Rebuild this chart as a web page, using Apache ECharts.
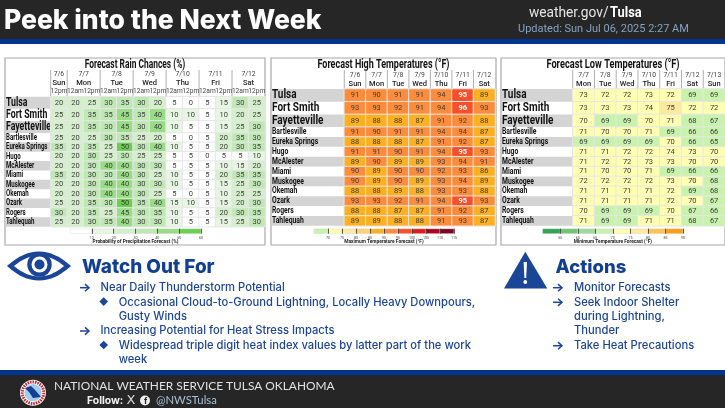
<!DOCTYPE html>
<html>

<head>
    <meta charset="utf-8">
    <title>Peek into the Next Week</title>
    <script src="https://cdn.jsdelivr.net/npm/echarts@6/dist/echarts.min.js"></script>
    <style>
        html, body { margin: 0; padding: 0; background: #fff; }
    </style>
</head>

<body>
    <div id="main" style="width: 725px;height:408px;"></div>
    <script type="text/javascript">
        // table rows
        var bigCities = ['Tulsa', 'Fort Smith', 'Fayetteville'];
        var smallCities = ['Bartlesville', 'Eureka Springs', 'Hugo', 'McAlester', 'Miami', 'Muskogee', 'Okemah', 'Ozark', 'Rogers', 'Tahlequah'];

        // rain chances
        var rainHours = ['12pm', '12am', '12pm', '12am', '12pm', '12am', '12pm', '12am', '12pm', '12am', '12pm', '12am', '12pm'];
        var rainDates = ['7/6', '7/7', '7/8', '7/9', '7/10', '7/11', '7/12'];
        var rainDays = ['Sun', 'Mon', 'Tue', 'Wed', 'Thu', 'Fri', 'Sat'];
        var rainDayStart = [0, 1, 3, 5, 7, 9, 11];
        var rainValues = [
            [20, 20, 25, 30, 35, 30, 20, 5, 0, 5, 15, 30, 25],
            [25, 20, 35, 35, 45, 35, 40, 10, 10, 5, 10, 20, 25],
            [25, 20, 35, 30, 45, 30, 40, 10, 5, 5, 15, 25, 30],
            [25, 20, 25, 30, 35, 25, 20, 5, 0, 5, 20, 35, 30],
            [35, 20, 35, 25, 50, 30, 40, 10, 5, 5, 20, 30, 35],
            [20, 20, 30, 25, 30, 25, 25, 5, 5, 0, 5, 5, 10],
            [20, 20, 30, 40, 40, 30, 30, 5, 5, 5, 10, 15, 20],
            [35, 20, 30, 30, 40, 30, 25, 10, 5, 5, 20, 35, 35],
            [20, 20, 30, 40, 40, 30, 30, 10, 5, 5, 15, 25, 30],
            [20, 20, 30, 40, 40, 30, 25, 5, 0, 5, 10, 25, 25],
            [25, 20, 35, 30, 50, 35, 40, 15, 10, 5, 15, 20, 30],
            [30, 20, 35, 25, 45, 30, 35, 10, 5, 5, 20, 30, 35],
            [25, 20, 30, 35, 40, 30, 30, 10, 5, 5, 15, 25, 30]
        ];
        var rainBreaks = [0, 10, 20, 30, 40, 50, 60];
        var rainColors = ['#ffffff', '#e7f6e2', '#d5efcd', '#c0e8b5', '#98dd86', '#6ccf50'];

        // high temperatures
        var highDates = ['7/6', '7/7', '7/8', '7/9', '7/10', '7/11', '7/12'];
        var highDays = ['Sun', 'Mon', 'Tue', 'Wed', 'Thu', 'Fri', 'Sat'];
        var highValues = [
            [91, 90, 91, 91, 94, 95, 89],
            [93, 93, 92, 91, 94, 96, 93],
            [89, 88, 88, 87, 91, 92, 88],
            [91, 90, 91, 91, 94, 94, 87],
            [88, 88, 88, 87, 91, 92, 87],
            [91, 91, 90, 91, 94, 95, 93],
            [89, 90, 89, 89, 93, 94, 91],
            [90, 89, 90, 90, 92, 93, 86],
            [90, 89, 90, 89, 93, 94, 89],
            [88, 88, 89, 88, 93, 93, 88],
            [93, 93, 92, 91, 94, 95, 93],
            [88, 88, 87, 87, 91, 92, 87],
            [89, 89, 88, 88, 91, 93, 87]
        ];
        var highBreaks = [65, 70, 75, 80, 85, 90, 95, 100, 105, 110, 115];
        var highColors = ['#c9f2ae', '#ffffb2', '#fee9a0', '#fed173', '#fdb022', '#fd8d3c', '#fb4f2a', '#e31a1c', '#b10026', '#800026'];

        // low temperatures
        var lowDates = ['7/7', '7/8', '7/9', '7/10', '7/11', '7/12', '7/13'];
        var lowDays = ['Mon', 'Tue', 'Wed', 'Thu', 'Fri', 'Sat', 'Sun'];
        var lowValues = [
            [73, 72, 72, 73, 72, 69, 69],
            [73, 73, 73, 74, 75, 72, 72],
            [70, 69, 69, 70, 71, 68, 67],
            [71, 70, 70, 71, 69, 66, 66],
            [69, 69, 69, 69, 70, 66, 65],
            [71, 71, 72, 72, 74, 73, 70],
            [71, 72, 72, 73, 73, 70, 70],
            [71, 70, 70, 71, 69, 66, 66],
            [72, 72, 72, 72, 73, 70, 68],
            [71, 71, 71, 71, 72, 69, 68],
            [71, 71, 71, 71, 72, 70, 67],
            [70, 69, 69, 69, 70, 67, 66],
            [71, 69, 69, 71, 71, 68, 67]
        ];
        var lowBreaks = [50, 55, 60, 65, 70, 75, 80, 85, 90];
        var lowColors = ['#31a354', '#74c476', '#a1d99b', '#c9f2ae', '#ffffb2', '#fee9a0', '#fec44f', '#fe9d14'];

        var dom = document.getElementById("main");
        var myChart = echarts.init(dom);
        var cellFont = 'Roboto';
        var blue = '#1b4596';

        var panels = [
            {
                title: 'Forecast Rain Chances (%)', caption: 'Probability of Precipitation Forecast (%)',
                box: [5, 58, 260, 187], left: 50.7, right: 265, top: 96.7, bigRow: 12.1, smallRow: 9.37,
                cols: rainHours, values: rainValues, breaks: rainBreaks, colors: rainColors,
                legend: [70, 201], titleY: 65, dateY: 74, dayY: 83, titleScale: 0.7, bigScale: 0.7, smallScale: 0.72
            },
            {
                title: 'Forecast High Temperatures (°F)', caption: 'Maximum Temperature Forecast (°F)',
                box: [271, 58, 225, 187], left: 344.3, right: 495, top: 89, bigRow: 12.7, smallRow: 9.87,
                cols: highDates, days: highDays, values: highValues, breaks: highBreaks, colors: highColors,
                legend: [314, 454], titleY: 65, dateY: 75, dayY: 84, titleScale: 0.75, bigScale: 0.8, smallScale: 0.8
            },
            {
                title: 'Forecast Low Temperatures (°F)', caption: 'Minimum Temperature Forecast (°F)',
                box: [501, 58, 224, 187], left: 572.7, right: 725, top: 89, bigRow: 12.7, smallRow: 9.87,
                cols: lowDates, days: lowDays, values: lowValues, breaks: lowBreaks, colors: lowColors,
                legend: [542.7, 683], titleY: 65, dateY: 75, dayY: 84, titleScale: 0.77, bigScale: 0.8, smallScale: 0.8
            }
        ];

        var grids = [], xAxes = [], yAxes = [], series = [], visualMaps = [];

        function heatData(rows, isTemp) {
            var out = [];
            rows.forEach(function (row, r) {
                row.forEach(function (v, c) {
                    var item = { value: [c, r, v] };
                    if (isTemp && v >= 95) {
                        item.label = { color: '#fff', fontWeight: 'bold' };
                    }
                    out.push(item);
                });
            });
            return out;
        }

        // two grids per panel: the three big rows and the ten small rows
        function addTable(p, cities, rows, top, rowH, withHeader, pieceSeries) {
            var g = grids.length;
            grids.push({ left: p.left, width: p.right - p.left, top: top, height: rowH * cities.length });
            xAxes.push({
                gridIndex: g, type: 'category', data: p.cols, position: 'top',
                axisLine: { show: false }, axisTick: { show: false }, splitLine: { show: false },
                axisLabel: {
                    show: withHeader && !p.days, interval: 0, margin: 1.5, fontSize: 6.6, color: '#444', fontFamily: cellFont
                }
            });
            yAxes.push({
                gridIndex: g, type: 'category', data: cities, inverse: true,
                axisLine: { show: false }, axisTick: { show: false }, splitLine: { show: false },
                axisLabel: { show: false }
            });
            pieceSeries.push(series.length);
            series.push({
                type: 'heatmap', xAxisIndex: g, yAxisIndex: g,
                data: heatData(rows, !!p.days),
                itemStyle: { borderColor: '#e6e6e6', borderWidth: 1 },
                label: { show: true, fontSize: 7.5, color: '#3d3d3d', fontFamily: cellFont, formatter: function (o) { return o.value[2]; } }
            });
        }

        // colour key: a stacked bar on its own value axis
        function addLegend(p) {
            var g = grids.length;
            var ticks = p.breaks.slice(1);
            grids.push({ left: p.legend[0], width: p.legend[1] - p.legend[0], top: 228.7, height: 5 });
            xAxes.push({
                gridIndex: g, type: 'value', min: p.breaks[0], max: p.breaks[p.breaks.length - 1], z: 5,
                axisLine: { show: false }, splitLine: { show: false },
                axisTick: { show: true, inside: true, length: 5, customValues: ticks, lineStyle: { color: '#333', width: 0.8 } },
                axisLabel: { fontSize: 3.6, color: '#444', margin: 2.5, fontFamily: cellFont, customValues: ticks }
            });
            yAxes.push({ gridIndex: g, type: 'category', data: [''], show: false });
            p.colors.forEach(function (c, i) {
                series.push({
                    type: 'bar', xAxisIndex: g, yAxisIndex: g, stack: 'legend' + g, barWidth: '100%',
                    data: [i === 0 ? p.breaks[1] : p.breaks[i + 1] - p.breaks[i]], silent: true,
                    itemStyle: { color: c, borderColor: '#c8c8c8', borderWidth: 0.3 }
                });
            });
        }

        panels.forEach(function (p) {
            var seriesIdx = [];
            p.grid = grids.length;
            addTable(p, bigCities, p.values.slice(0, 3), p.top, p.bigRow, true, seriesIdx);
            addTable(p, smallCities, p.values.slice(3), p.top + 3 * p.bigRow, p.smallRow, false, seriesIdx);
            var pieces = p.colors.map(function (c, i) {
                return { gte: p.breaks[i], lt: p.breaks[i + 1], color: c };
            });
            visualMaps.push({ type: 'piecewise', show: false, dimension: 2, seriesIndex: seriesIdx, pieces: pieces });
            addLegend(p);
        });

        function txt(x, y, s, size, color, weight, family, align, sx) {
            return {
                type: 'text', x: x, y: y, silent: true, scaleX: sx || 1,
                style: {
                    text: s, fontSize: size, fill: color, fontWeight: weight || 'normal',
                    fontFamily: family || 'Inter', textAlign: align || 'left', textVerticalAlign: 'middle'
                }
            };
        }

        function rect(x, y, w, h, fill, stroke, lw) {
            return {
                type: 'rect', silent: true, shape: { x: x, y: y, width: w, height: h },
                style: { fill: fill, stroke: stroke || null, lineWidth: lw || 0 }
            };
        }

        function circle(cx, cy, r, fill, stroke, lw, dash) {
            return {
                type: 'circle', silent: true, shape: { cx: cx, cy: cy, r: r },
                style: { fill: fill, stroke: stroke || null, lineWidth: lw || 0, lineDash: dash || null }
            };
        }

        function line(x1, y1, x2, y2, color, lw) {
            return {
                type: 'line', silent: true, shape: { x1: x1, y1: y1, x2: x2, y2: y2 },
                style: { stroke: color, lineWidth: lw }
            };
        }

        function poly(points, fill) {
            return { type: 'polygon', silent: true, shape: { points: points }, style: { fill: fill } };
        }

        // almond outline of the eye icon
        function almond(cx, cy, hw, hh) {
            var pts = [];
            for (var i = 0; i <= 48; i++) {
                var a = i / 48 * 2 * Math.PI;
                var t = Math.cos(a);
                pts.push([cx + hw * t, cy + hh * (1 - t * t) * (Math.sin(a) >= 0 ? 1 : -1)]);
            }
            return pts;
        }

        function arrow(x, y) {
            return [
                line(x, y, x + 9, y, blue, 1.5),
                { type: 'polyline', silent: true, shape: { points: [[x + 5, y - 3.6], [x + 9, y], [x + 5, y + 3.6]] }, style: { stroke: blue, lineWidth: 1.5, fill: null } }
            ];
        }

        function diamond(cx, cy) {
            return poly([[cx - 4.3, cy], [cx, cy - 4.3], [cx + 4.3, cy], [cx, cy + 4.3]], blue);
        }

        // page furniture that sits behind the tables
        var backdrop = [
            rect(0, 0, 725, 39, '#262626'),
            rect(0, 39, 725, 5, '#03328f'),
            rect(0, 370, 725, 5, '#03328f'),
            rect(0, 375, 725, 33, '#262626')
        ];
        panels.forEach(function (p) {
            backdrop.push(rect(p.box[0], p.box[1], p.box[2], p.box[3], '#fff', '#a8a8a8', 1.2));
        });

        myChart.setOption({
            animation: false,
            backgroundColor: '#fff',
            grid: grids,
            xAxis: xAxes,
            yAxis: yAxes,
            visualMap: visualMaps,
            tooltip: { show: false },
            graphic: [{ id: 'back', type: 'group', z: -1, children: backdrop }],
            series: series
        });

        // headers and row names are placed from the axis scale, then the rest of the slide text
        var front = [];
        panels.forEach(function (p) {
            var cw = (p.right - p.left) / p.cols.length;
            var tableBottom = p.top + 3 * p.bigRow + 10 * p.smallRow;
            function center(i) {
                return myChart.convertToPixel({ xAxisIndex: p.grid }, i);
            }
            function rowNames(cities, axis, rowH, size, startGrey, sx) {
                cities.forEach(function (name, i) {
                    var y = myChart.convertToPixel({ yAxisIndex: axis }, i);
                    if ((i % 2 === 0) === startGrey) {
                        front.push(rect(p.box[0] + 0.6, y - rowH / 2, p.left - p.box[0] - 0.6, rowH, '#d4d4d4'));
                    }
                    front.push(txt(p.box[0] + 1, y, name, size, '#111', 'bold', 'Roboto', 'left', sx));
                });
            }
            var midX = p.box[0] + p.box[2] / 2;
            front.push(txt(midX, p.titleY, p.title, 12, '#111', 'bold', 'Roboto', 'center', p.titleScale));
            rowNames(bigCities, p.grid, p.bigRow, 12.5, true, p.bigScale);
            rowNames(smallCities, p.grid + 1, p.smallRow, 8.5, false, p.smallScale);
            var topLine = 70, botLine = p.top;
            if (p.days) {
                p.cols.forEach(function (d, i) {
                    var edge = center(i) - cw / 2;
                    front.push(txt(center(i), p.dateY, d, 6.8, '#444', 'normal', cellFont, 'center'));
                    front.push(txt(center(i), p.dayY, p.days[i], 7.5, '#222', '500', cellFont, 'center'));
                    front.push(line(edge, topLine, edge, botLine, '#9a9a9a', 0.8));
                    if (i > 0) {
                        front.push(line(edge, botLine, edge, tableBottom, '#c9c9c9', 0.9));
                    }
                });
            } else {
                rainDates.forEach(function (d, i) {
                    var start = rainDayStart[i];
                    var end = i + 1 < rainDayStart.length ? rainDayStart[i + 1] - 1 : rainHours.length - 1;
                    var mid = (center(start) + center(end)) / 2;
                    var edge = center(start) - cw / 2;
                    front.push(txt(mid, p.dateY, d, 6.8, '#444', 'normal', cellFont, 'center'));
                    front.push(txt(mid, p.dayY, rainDays[i], 7.5, '#222', '500', cellFont, 'center'));
                    front.push(line(edge, topLine, edge, botLine, '#9a9a9a', 0.8));
                    if (i > 0) {
                        front.push(line(edge, botLine, edge, tableBottom, '#ffffff', 1.2));
                    }
                });
            }
            front.push(txt((p.legend[0] + p.legend[1]) / 2, 242, p.caption, 4.8, '#222', 'bold', cellFont, 'center'));
        });

        // header text
        front.push(txt(4, 21, 'Peek into the Next Week', 26.5, '#fff', '800', 'Inter'));
        front.push(txt(529, 13, 'weather.gov/', 14, '#e6e6e6', 'normal', 'Roboto', 'left', 0.98));
        front.push(txt(610, 13, 'Tulsa', 14, '#fff', 'bold', 'Roboto', 'left', 0.92));
        front.push(txt(518, 29, 'Updated: Sun Jul 06, 2025 2:27 AM', 11, '#86a2c0', 'normal', 'Roboto'));

        // eye icon
        front.push(poly(almond(39, 266, 32, 14.5), blue));
        front.push(poly(almond(39, 266, 25, 10.5), '#fff'));
        front.push(circle(39.5, 264.5, 12.2, blue));
        front.push(circle(39.5, 264.5, 8, '#fff'));
        front.push(circle(39.5, 264.5, 5, blue));

        // left column
        var bodySize = 11.2;
        front.push(txt(82, 267, 'Watch Out For', 18.9, '#123f92', '800'));
        front = front.concat(arrow(80, 287.7), arrow(80, 331));
        front.push(diamond(103.7, 301.6), diamond(103.7, 345));
        front.push(txt(100.5, 287.7, 'Near Daily Thunderstorm Potential', bodySize, blue, '500'));
        front.push(txt(118.7, 302.3, 'Occasional Cloud-to-Ground Lightning, Locally Heavy Downpours,', bodySize, blue, '500'));
        front.push(txt(118.7, 316.7, 'Gusty Winds', bodySize, blue, '500'));
        front.push(txt(100.5, 331, 'Increasing Potential for Heat Stress Impacts', bodySize, blue, '500'));
        front.push(txt(118.7, 345.7, 'Widespread triple digit heat index values by latter part of the work', bodySize, blue, '500'));
        front.push(txt(118.7, 360, 'week', bodySize, blue, '500'));

        // warning triangle and right column
        front.push(poly([[525.3, 251.7], [547.3, 288.5], [504, 288.5]], blue));
        front.push(poly([[523.6, 262], [527, 262], [526.2, 278], [524.4, 278]], '#fff'));
        front.push(circle(525.3, 282, 1.9, '#fff'));
        front.push(txt(555.5, 267, 'Actions', 18.5, '#123f92', '800'));
        front = front.concat(arrow(553, 287.7), arrow(553, 302.3), arrow(553, 345.7));
        front.push(txt(574, 287.7, 'Monitor Forecasts', bodySize, blue, '500'));
        front.push(txt(574, 302.3, 'Seek Indoor Shelter', bodySize, blue, '500'));
        front.push(txt(574, 316.7, 'during Lightning,', bodySize, blue, '500'));
        front.push(txt(574, 331, 'Thunder', bodySize, blue, '500'));
        front.push(txt(574, 345.7, 'Take Heat Precautions', bodySize, blue, '500'));

        // footer
        front.push(circle(33, 392.7, 13, '#fff'));
        front.push(circle(33, 392.7, 10.8, null, '#c8323c', 3, [1.6, 0.9]));
        front.push(circle(33, 392.7, 8.6, '#9fcdec'));
        front.push(poly([[25, 388], [31, 386], [35, 390], [41, 397], [33, 398], [29, 392]], '#123f92'));
        front.push(txt(54, 386, 'NATIONAL WEATHER SERVICE TULSA OKLAHOMA', 11.9, '#e2e2e2', 'normal', 'Lato'));
        front.push(txt(87, 400.5, 'Follow:', 10.4, '#f2f2f2', 'bold', 'Inter'));
        front.push(txt(126.5, 400.5, 'X', 13, '#d8d8d8', 'normal', 'DejaVu Sans'));
        front.push(circle(145, 400.5, 5, '#f0f0f0'));
        front.push(txt(145.6, 401, 'f', 8.5, '#262626', 'bold', 'Inter', 'center'));
        front.push(txt(156, 400.5, '@NWSTulsa', 11.3, '#a9c0d6', 'normal', 'Lato'));

        myChart.setOption({
            graphic: [{ id: 'back', type: 'group', z: -1, children: backdrop }, { id: 'front', type: 'group', z: 10, children: front }]
        });
    </script>
</body>

</html>
